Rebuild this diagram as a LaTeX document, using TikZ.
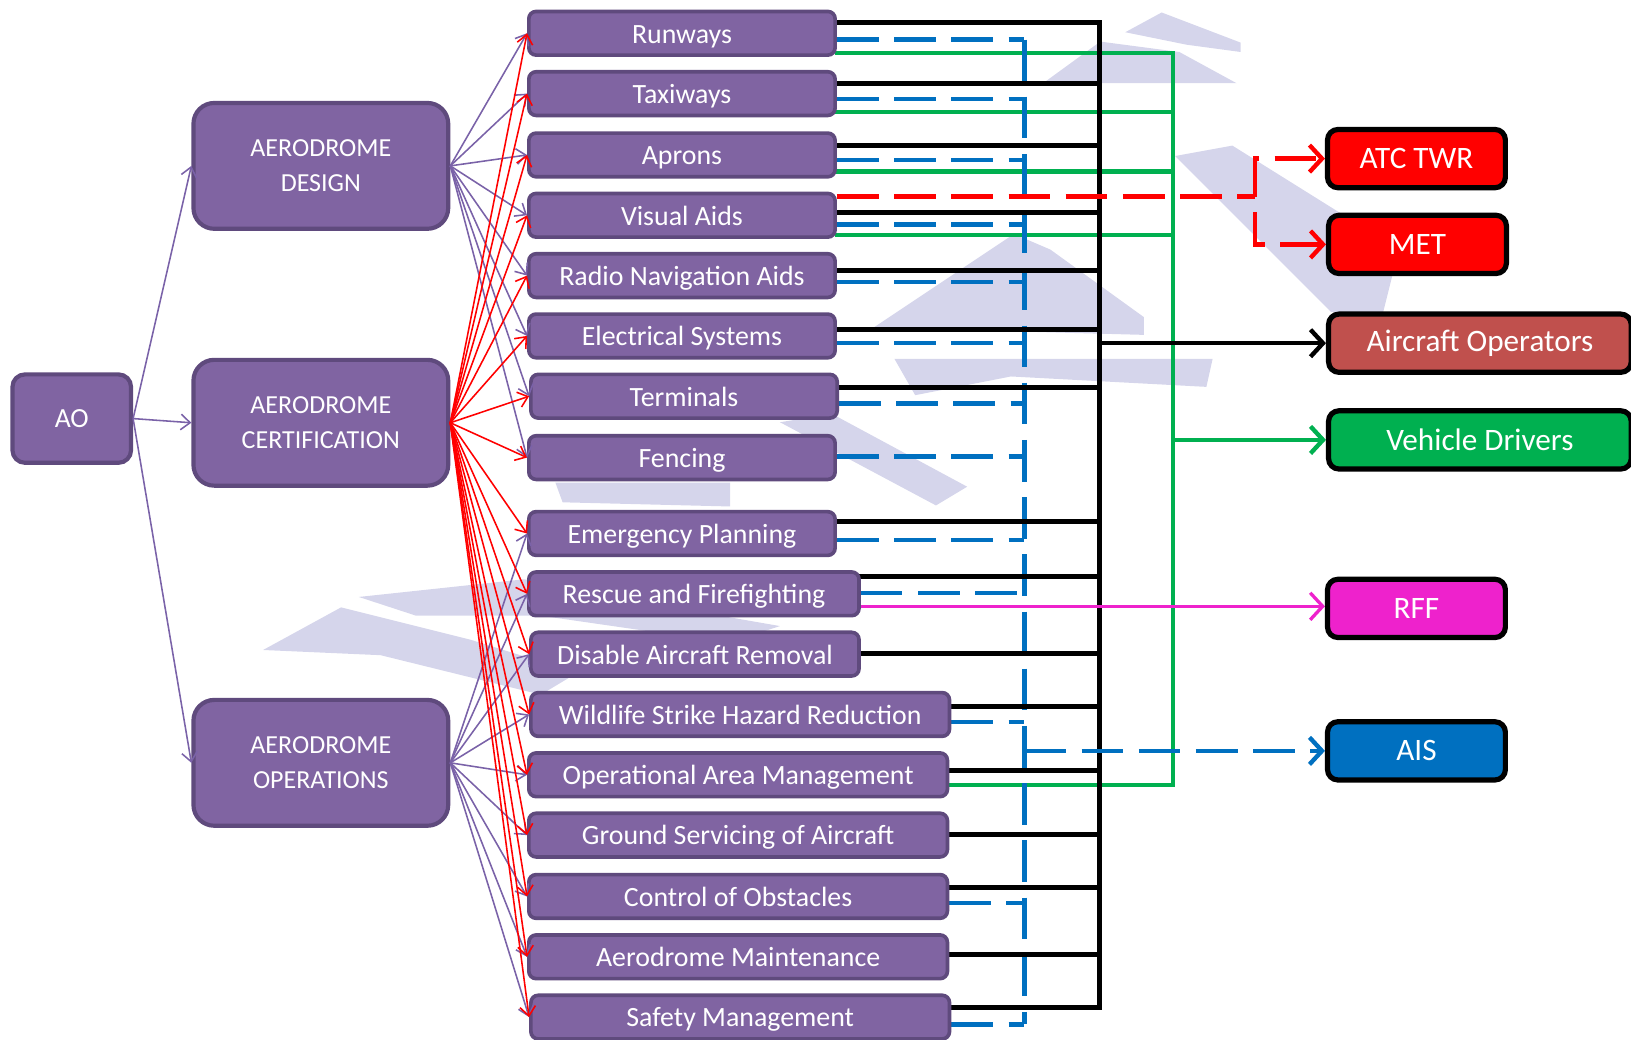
\documentclass[tikz,border=0pt]{standalone}
\usepackage{fontspec}
\setmainfont{Carlito}
\usetikzlibrary{arrows.meta}
\definecolor{boxfill}{HTML}{8064A2}
\definecolor{boxline}{HTML}{5F4A7D}
\definecolor{fanpurple}{HTML}{7A62A8}
\definecolor{wm}{HTML}{D5D5EB}
\definecolor{cblue}{HTML}{0070C0}
\definecolor{cgreen}{HTML}{00B050}
\definecolor{cmag}{HTML}{EE22CC}
\definecolor{cbrick}{HTML}{C0504D}
\pgfdeclarelayer{bg}
\pgfsetlayers{bg,main}
\newcommand\hc[4]{\draw[#1] ([yshift=#3pt]#2.east) coordinate (hct) -- (hct -| #4);}
\begin{document}
\begin{tikzpicture}[x=1pt,y=-1pt,
  midbox/.style={draw=boxline, fill=boxfill, line width=3.5pt, rounded corners=7pt,
    minimum height=42pt, inner sep=0pt, text height=22pt, text depth=3pt, text=white,
    font=\fontsize{26.8}{30}\selectfont, anchor=west},
  leftbox/.style={draw=boxline, fill=boxfill, line width=4pt, rounded corners=20pt,
    minimum width=245pt, minimum height=121pt, inner sep=0pt, align=center, text=white,
    font=\fontsize{25}{34}\selectfont},
  rbox/.style={draw=black, line width=5pt, rounded corners=10pt, minimum height=56pt,
    inner sep=0pt, text=white, font=\fontsize{30}{34}\selectfont},
  fanp/.style={fanpurple, line width=1.5pt, -{Straight Barb[length=9pt,width=15pt]}},
  fanr/.style={red, line width=1.5pt, -{Straight Barb[length=9pt,width=15pt]}},
  blk/.style={black, line width=4.8pt, line cap=rect},
  grn/.style={cgreen, line width=4.2pt, line cap=rect},
  bdash/.style={cblue, line width=4.2pt, dash pattern=on 40pt off 15pt},
  rdash/.style={red, line width=4.2pt, dash pattern=on 40pt off 15pt},
  mag/.style={cmag, line width=3.2pt},
  bigtip/.style={-{Straight Barb[length=12pt,width=26pt]}}
]
\useasboundingbox (0,0) rectangle (1568.3,1000);
\clip (0,0) rectangle (1568.3,1000);

% left nodes
\node[leftbox, minimum width=114pt, minimum height=85pt, rounded corners=12pt,
  font=\fontsize{26.6}{30}\selectfont] (ao) at (69,402.5) {AO};
\node[leftbox] (des) at (308.5,159.5) {AERODROME\\DESIGN};
\node[leftbox] (cert) at (308.5,406.5) {AERODROME\\CERTIFICATION};
\node[leftbox] (ops) at (308.5,733.5) {AERODROME\\OPERATIONS};

% middle nodes (placed by left edge)
\node[midbox, minimum width=294.5pt] (rw) at (506.75,32) {Runways};
\node[midbox, minimum width=294.5pt] (tx) at (506.75,90) {Taxiways};
\node[midbox, minimum width=294.5pt] (ap) at (506.75,149) {Aprons};
\node[midbox, minimum width=294.5pt] (va) at (506.75,207) {Visual Aids};
\node[midbox, minimum width=294.5pt] (rn) at (506.75,265) {Radio Navigation Aids};
\node[midbox, minimum width=294.5pt] (es) at (506.75,323) {Electrical Systems};
\node[midbox, minimum width=294.5pt] (te) at (508.75,381) {Terminals};
\node[midbox, minimum width=294.5pt] (fe) at (506.75,440) {Fencing};
\node[midbox, minimum width=294.5pt] (ep) at (506.75,513) {Emergency Planning};
\node[midbox, minimum width=317.5pt] (rf) at (506.75,571) {Rescue and Firefighting};
\node[midbox, minimum width=315.5pt] (da) at (508.75,629) {Disable Aircraft Removal};
\node[midbox, minimum width=402.5pt] (ws) at (508.75,687) {Wildlife Strike Hazard Reduction};
\node[midbox, minimum width=402.5pt] (oa) at (506.75,745) {Operational Area Management};
\node[midbox, minimum width=402.5pt] (gs) at (506.75,803) {Ground Servicing of Aircraft};
\node[midbox, minimum width=402.5pt] (co) at (506.75,862) {Control of Obstacles};
\node[midbox, minimum width=402.5pt] (am) at (506.75,920) {Aerodrome Maintenance};
\node[midbox, minimum width=402.5pt] (sm) at (508.75,978) {Safety Management};

% right nodes
\node[rbox, fill=red, minimum width=171pt] (atc) at (1362,152.5) {ATC TWR};
\node[rbox, fill=red, minimum width=171pt] (met) at (1363,235) {MET};
\node[rbox, fill=cbrick, minimum width=291pt] (aop) at (1423,330) {Aircraft Operators};
\node[rbox, fill=cgreen, minimum width=291pt] (veh) at (1423,423) {Vehicle Drivers};
\node[rbox, fill=cmag, minimum width=171pt] (rff) at (1362,585) {RFF};
\node[rbox, fill=cblue, minimum width=171pt] (ais) at (1362,722) {AIS};

% bus coordinates
\coordinate (kbT) at (1057,22);
\coordinate (kbB) at (1057,969);
\coordinate (bbT) at (985,38);
\coordinate (bbB) at (985,985);
\coordinate (gbT) at (1128,51);
\coordinate (gbB) at (1128,755);
\coordinate (rj) at (1207,189);

\begin{pgfonlayer}{bg}
% watermark
\fill[wm] (1082,31) -- (1117,12) -- (1193,41) -- (1193,50) -- (1141,43) -- cycle;
\fill[wm] (1003,80) -- (1058,40) -- (1134,50) -- (1189,80) -- cycle;
\fill[wm] (1130,150) -- (1185,140) -- (1345,240) -- (1330,300) -- (1280,300) -- cycle;
\fill[wm] (840,315) -- (975,225) -- (1010,240) -- (1100,305) -- (1100,322) -- cycle;
\fill[wm] (860,345) -- (1166,345) -- (1160,372) -- (972,362) -- (880,380) -- cycle;
\fill[wm] (750,406) -- (800,398) -- (930,468) -- (900,486) -- cycle;
\fill[wm] (534,464) -- (702,464) -- (702,487) -- (541,483) -- cycle;
\fill[wm] (253,625) -- (328,584) -- (452,615) -- (555,647) -- (520,668) -- (366,630) -- cycle;
\fill[wm] (345,574) -- (504,557) -- (589,574) -- (750,602) -- (700,618) -- (520,592) -- (400,592) -- cycle;

% green connectors
\hc{grn}{rw}{-19}{gbT}
\hc{grn}{tx}{-18}{gbT}
\hc{grn}{ap}{-16}{gbT}
\hc{grn}{va}{-19}{gbT}
\hc{grn}{oa}{-10}{gbT}
\draw[grn] (gbT) -- (gbB);

% blue dashed connectors
\hc{bdash}{rw}{-6}{bbT}
\hc{bdash}{tx}{-5}{bbT}
\hc{bdash}{ap}{-5}{bbT}
\hc{bdash}{va}{-9}{bbT}
\hc{bdash}{rn}{-6}{bbT}
\hc{bdash}{es}{-7}{bbT}
\hc{bdash}{te}{-7}{bbT}
\hc{bdash}{fe}{1}{bbT}
\hc{bdash}{ep}{-6}{bbT}
\hc{bdash}{rf}{1}{bbT}
\hc{bdash}{ws}{-7}{bbT}
\hc{bdash}{co}{-6}{bbT}
\hc{bdash}{sm}{-7}{bbT}
\draw[bdash] (bbT) -- (bbB);

% black connectors
\hc{blk}{rw}{10}{kbT}
\hc{blk}{tx}{10}{kbT}
\hc{blk}{ap}{9}{kbT}
\hc{blk}{va}{3}{kbT}
\hc{blk}{rn}{5}{kbT}
\hc{blk}{es}{6}{kbT}
\hc{blk}{te}{8}{kbT}
\hc{blk}{ep}{12}{kbT}
\hc{blk}{rf}{17}{kbT}
\hc{blk}{da}{1}{kbT}
\hc{blk}{ws}{8}{kbT}
\hc{blk}{oa}{4}{kbT}
\hc{blk}{gs}{1}{kbT}
\hc{blk}{co}{9}{kbT}
\hc{blk}{am}{2}{kbT}
\hc{blk}{sm}{9}{kbT}
\draw[blk] (kbT) -- (kbB);

% red dashed from Visual Aids
\draw[rdash] ([yshift=18pt]va.east) -- (rj);

% magenta from Rescue and Firefighting
\draw[mag, bigtip] ([yshift=-12pt]rf.east) coordinate (mgs) -- (mgs -| rff.west);
\end{pgfonlayer}

% arrows into the right-hand boxes
\draw[grn, line cap=butt, bigtip] (gbT |- veh.west) -- (veh.west);
\draw[blk, line width=4.2pt, line cap=butt, bigtip] (kbT |- aop.west) -- (aop.west);
\draw[bdash, bigtip] (bbT |- ais.west) -- (ais.west);
\draw[rdash, bigtip] (rj) |- (atc.west);
\draw[rdash, dash phase=40pt, bigtip] (rj) |- (met.west);

% fan connectors
\draw[fanp] (ao.east) -- (des.west);
\draw[fanp] (ao.east) -- (cert.west);
\draw[fanp] (ao.east) -- (ops.west);
\foreach \t in {rw,tx,ap,va,rn,es,te,fe}
  \draw[fanp] (des.east) -- (\t.west);
\foreach \t in {ep,rf,da,ws,oa,gs,co,am,sm}
  \draw[fanp] (ops.east) -- (\t.west);
\foreach \t in {rw,tx,ap,va,rn,es,te,fe,ep,rf,da,ws,oa,gs,co,am,sm}
  \draw[fanr] (cert.east) -- (\t.west);
\end{tikzpicture}
\end{document}
